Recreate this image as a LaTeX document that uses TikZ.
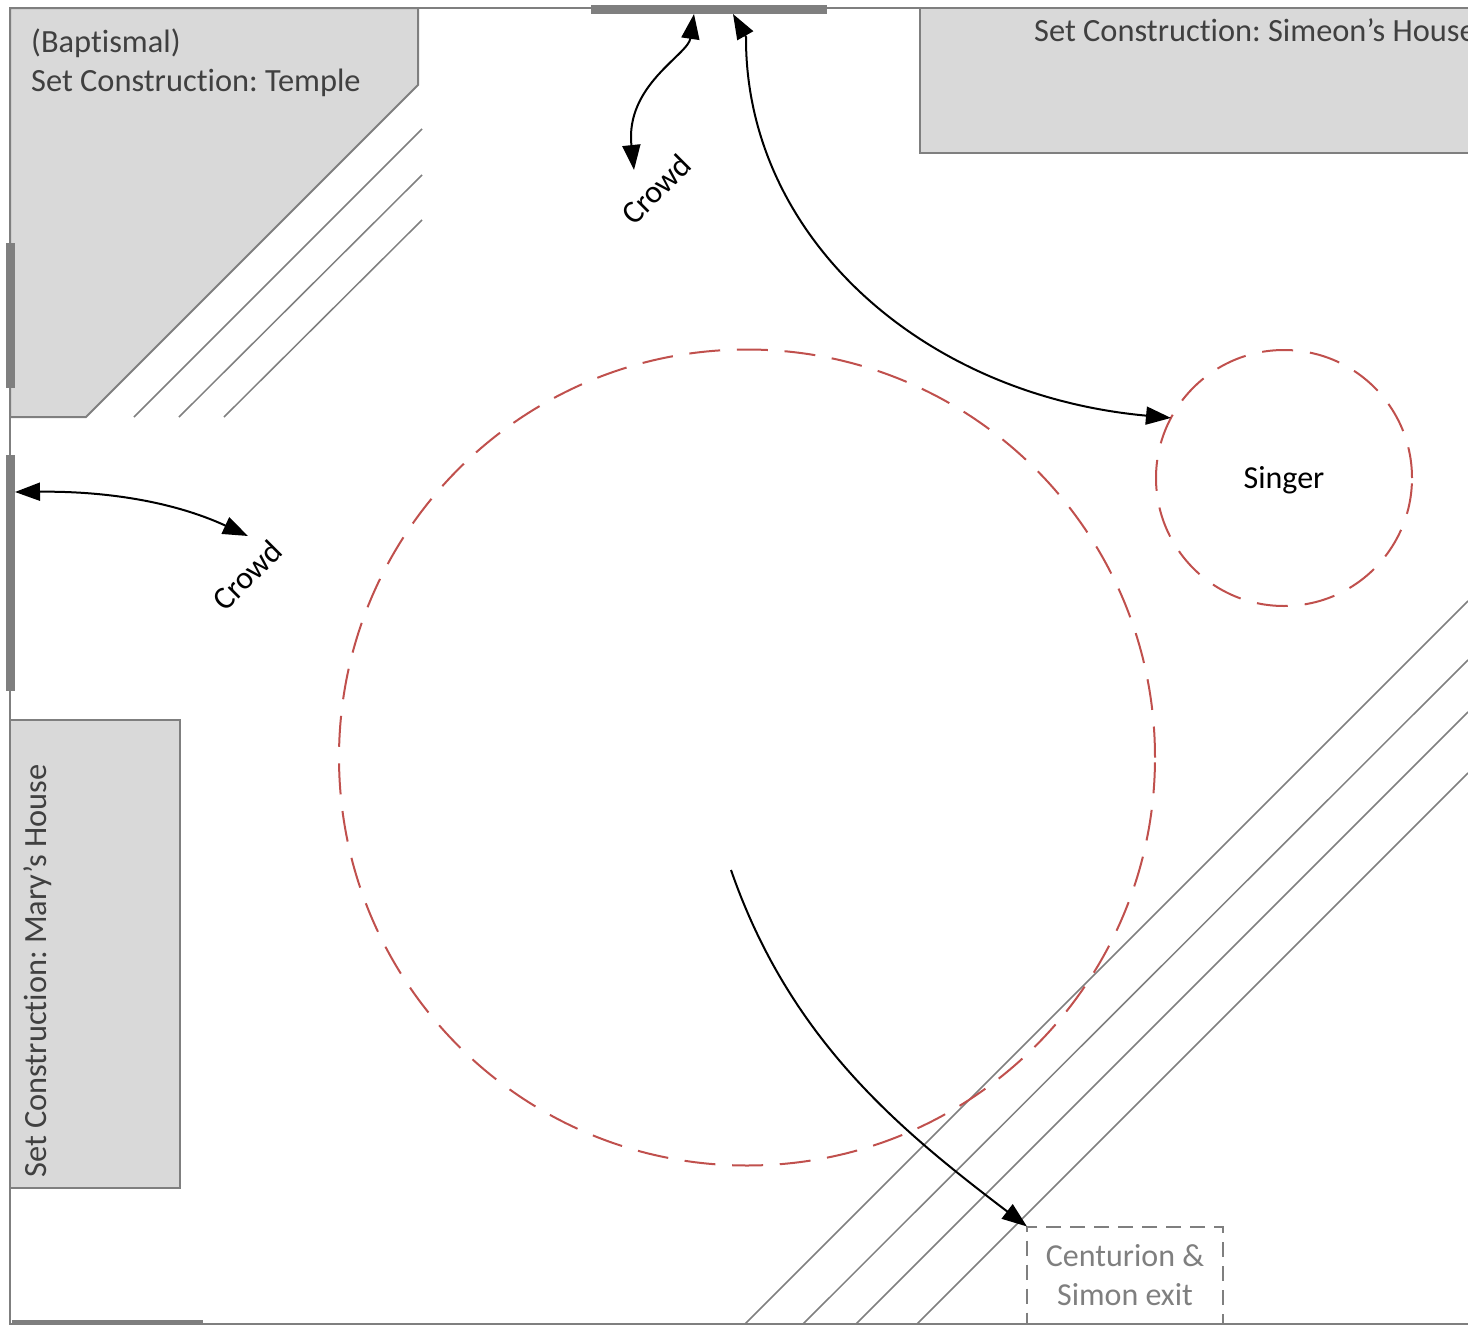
\documentclass[tikz,border=0pt]{standalone}
\usepackage{fontspec}
\setmainfont{Carlito}[Ligatures=NoCommon]
\usetikzlibrary{arrows.meta}
\definecolor{wallgray}{HTML}{7F7F7F}
\definecolor{setgray}{HTML}{D9D9D9}
\definecolor{settext}{HTML}{404040}
\definecolor{ringred}{HTML}{C0504D}
\tikzset{
    wall/.style={draw=wallgray, line width=2pt},
    setpiece/.style={wall, fill=setgray},
    doorbar/.style={
        rectangle, inner sep=0pt, outer sep=0pt,
        fill=wallgray, draw=none,
    },
    ring/.style={
        circle, inner sep=0pt, outer sep=0pt,
        draw=ringred, line width=2pt, dash pattern=on 31pt off 17pt,
    },
    settext/.style={
        inner sep=0pt, anchor=base west, text=settext,
        font=\fontsize{32.4}{36}\selectfont\frenchspacing,
    },
    crowdtext/.style={
        inner sep=0pt, text=black, rotate=45,
        font=\fontsize{32}{36}\selectfont,
    },
    walkpath/.style={
        draw=black, line width=2pt,
    },
    stepline/.style={draw=wallgray, line width=1.5pt},
    bigtip/.tip={Triangle[length=25pt, width=18pt]},
}
\begin{document}
\begin{tikzpicture}[x=1pt, y=-1pt]
    \useasboundingbox (0,0) rectangle (1468,1325);
    \clip (0,0) rectangle (1468,1325);

    % walls
    \draw[wall] (1468,8) -- (10,8) -- (10,1324) -- (1468,1324);

    % set pieces
    \draw[setpiece] (10,8) -- (418,8) -- (418,85) -- (86,417) -- (10,417) -- cycle;
    \draw[setpiece] (920,8) rectangle (1480,153);
    \draw[setpiece] (10,720) rectangle (180,1188);

    \node (baptismal) at(31,52.5) [settext] {(Baptismal)};
    \node (temple) at(31,91.5) [settext] {Set Construction: Temple};
    \node (simeon) at(1034,41.5) [settext] {Set Construction: Simeon’s House};
    \node (mary) at(46,1178) [settext, rotate=90] {Set Construction: Mary’s House};

    % steps
    \foreach \xa/\yb in {134/129, 179/175, 224/220} {
        \draw[stepline] (\xa,417) -- (422,\yb);
    }
    \foreach \xa/\yb in {745/601, 803/660, 856/712, 917/773} {
        \draw[stepline] (\xa,1324) -- (1468,\yb);
    }

    % doors
    \node (doorlefta) at(10,315) [doorbar, minimum width=9pt, minimum height=145pt] {};
    \node (doorleftb) at(10,572.5) [doorbar, minimum width=9pt, minimum height=236pt] {};
    \node (doortop) at(709,9) [doorbar, minimum width=236pt, minimum height=9pt] {};
    \node (doorbottom) at(107.5,1322) [doorbar, minimum width=191pt, minimum height=5pt] {};

    % stage circles
    \node (mainring) at(747,757.5) [ring, minimum size=816pt, dash pattern=on 31pt off 16.7pt] {};
    \node (singer) at(1284,478) [ring, minimum size=256pt, text=black,
        font=\fontsize{32}{36}\selectfont] {\raisebox{-10pt}[0pt][0pt]{Singer}};

    % exit
    \node (exitbox) at(1125,1275.5) [
        rectangle, inner sep=0pt, outer sep=0pt,
        minimum width=196pt, minimum height=98pt,
        draw=wallgray, line width=2pt, dash pattern=on 15pt off 9pt,
        align=center, text=wallgray,
        font=\fontsize{32}{39}\selectfont,
    ] {Centurion \&\\Simon exit};

    % crowd
    \node (crowdtop) at(656,189) [crowdtext] {Crowd};
    \node (crowdleft) at(247,575) [crowdtext] {Crowd};
    \coordinate (crowdtoptip) at(634,170);
    \coordinate (crowdlefttip) at(248,536);
    \coordinate (doortopa) at(694,14);
    \coordinate (doortopb) at(733,14);
    \coordinate (doorleftc) at(15,492);
    \coordinate (walkstart) at(731,870);

    % movement
    \draw[walkpath, bigtip-bigtip] (doortopa) .. controls (688,55) and (625,85) .. (crowdtoptip);
    \draw[walkpath, bigtip-bigtip] (doortopb) -- (746,37) .. controls (745,235) and (920,395) .. (singer.152);
    \draw[walkpath, bigtip-bigtip] (doorleftc) .. controls (100,491) and (170,500) .. (crowdlefttip);
    \draw[walkpath, -bigtip] (walkstart) .. controls (790,1040) and (900,1130) .. (exitbox.north west);
\end{tikzpicture}
\end{document}
